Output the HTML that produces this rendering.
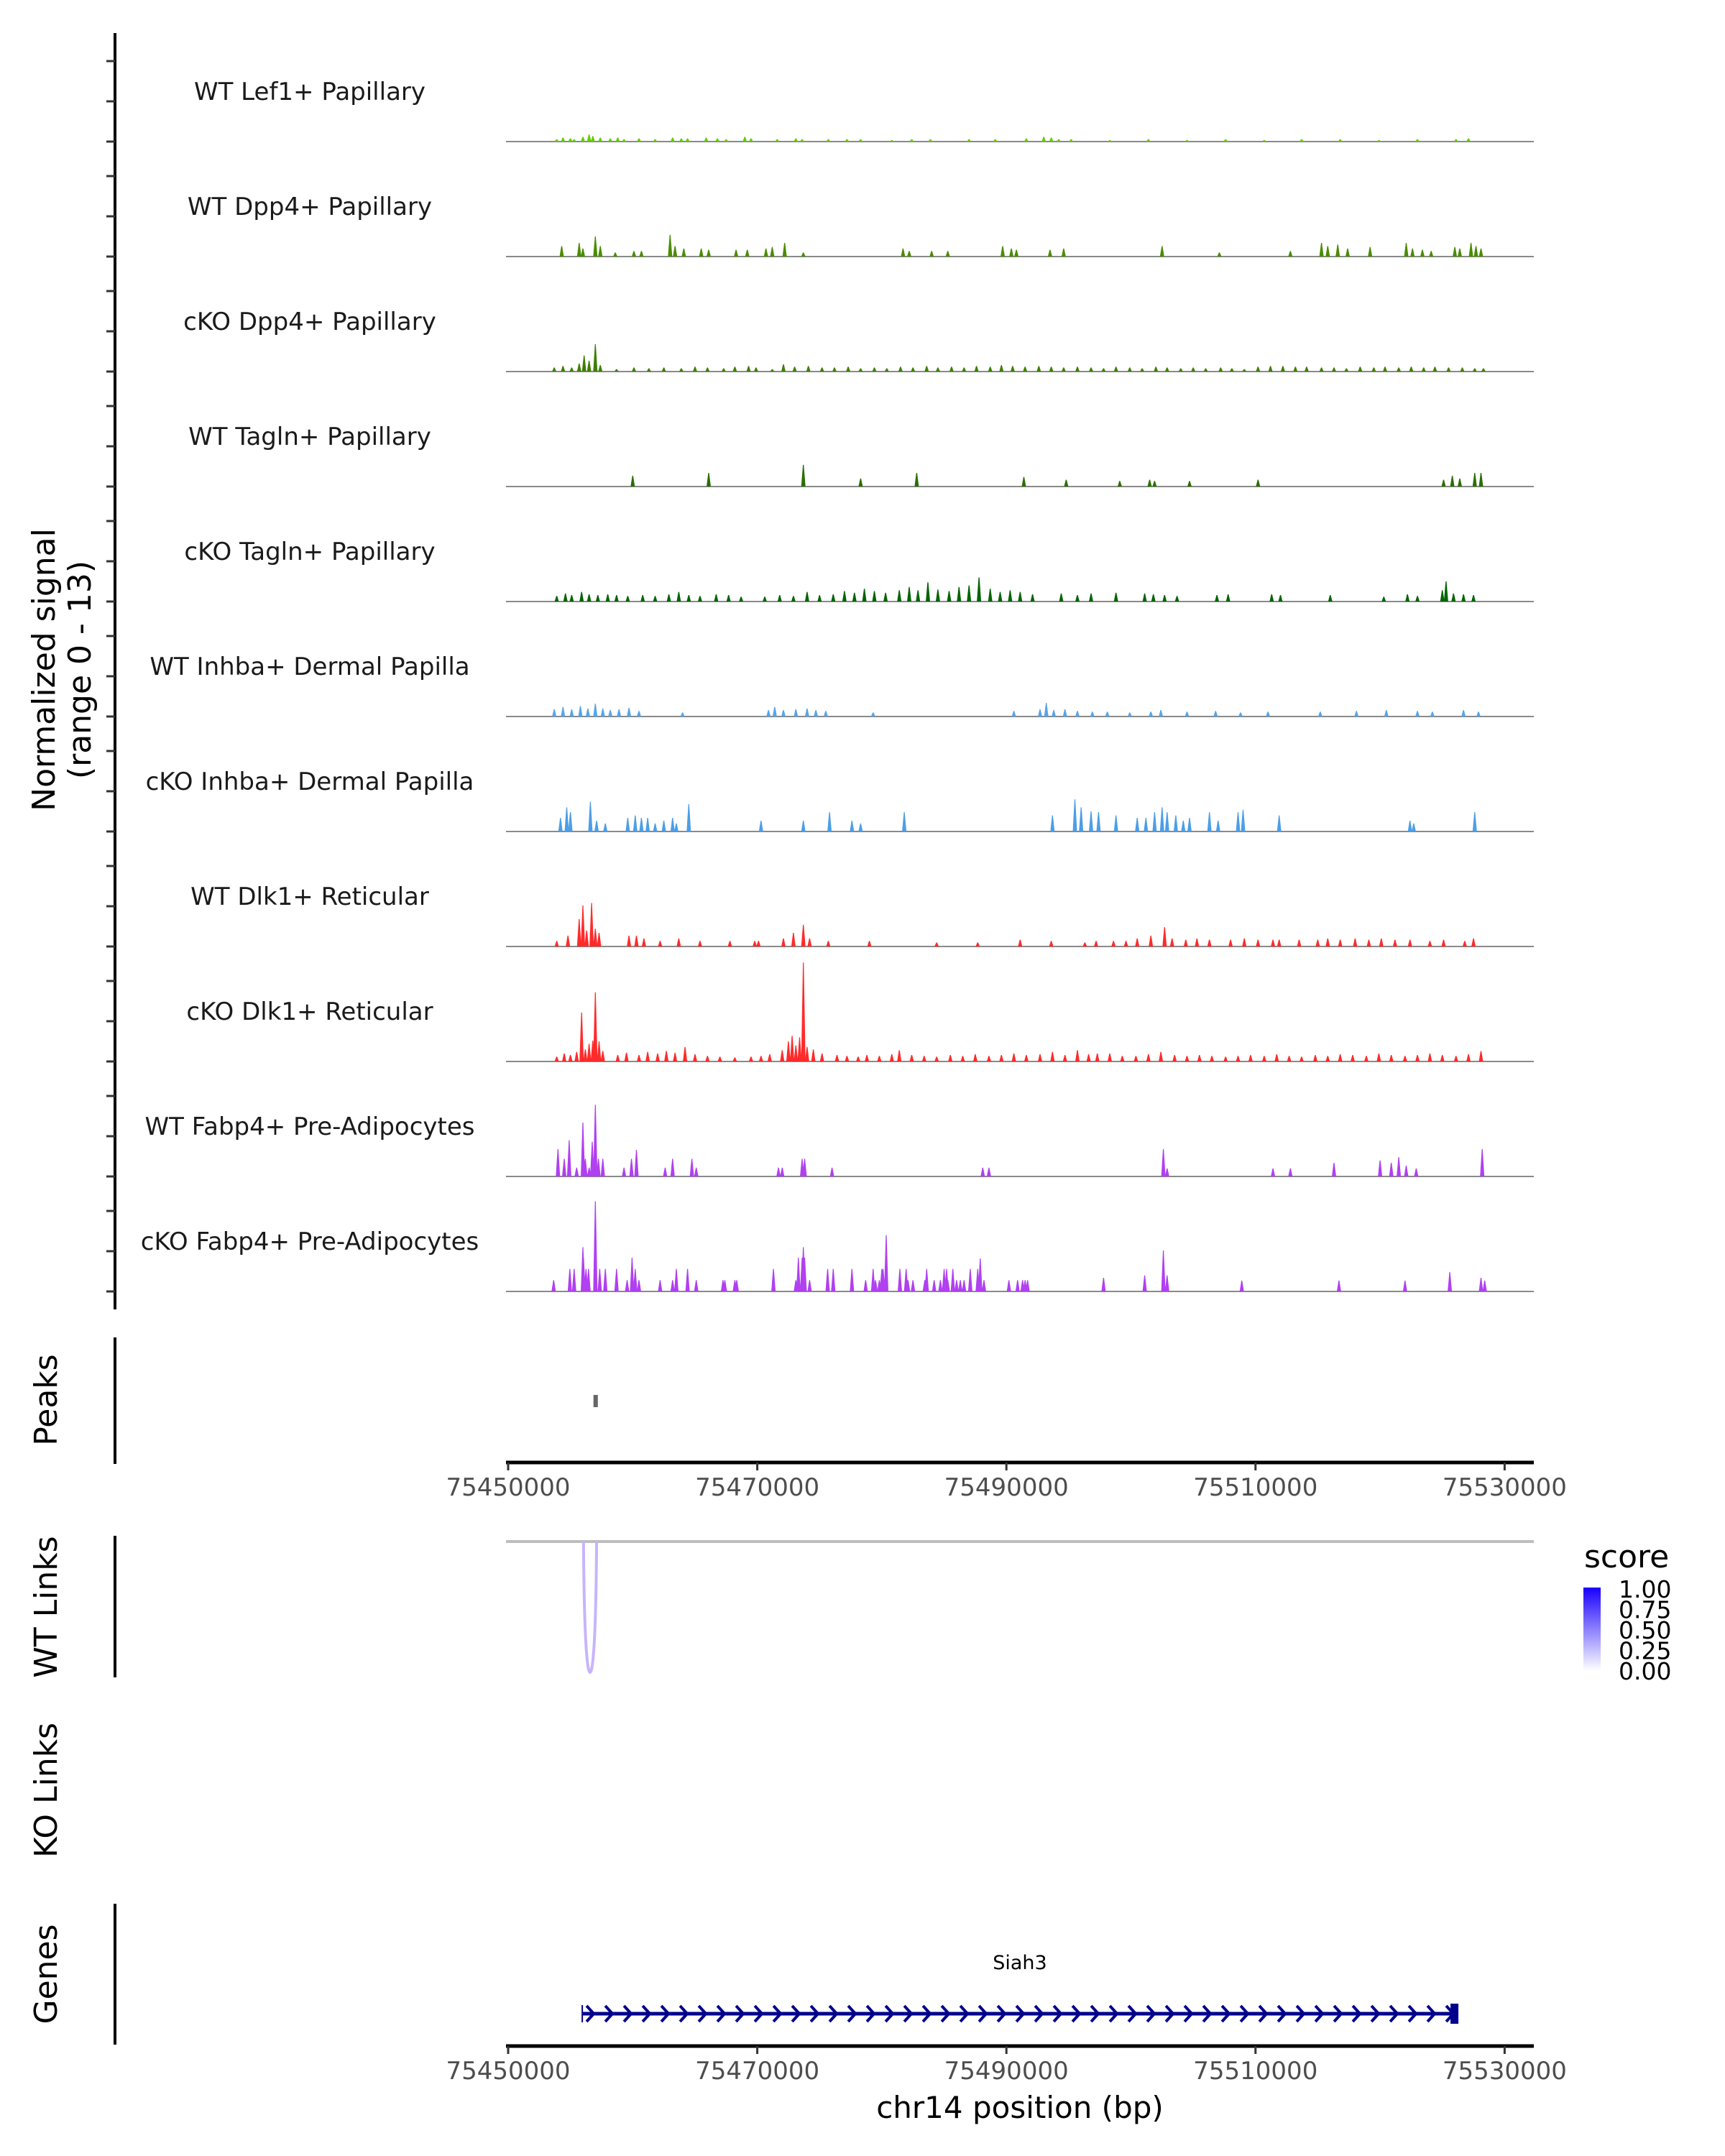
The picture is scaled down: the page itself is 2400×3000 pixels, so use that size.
<!DOCTYPE html>
<html><head><meta charset="utf-8">
<style>
html,body{margin:0;padding:0;background:#fff;}
svg{display:block;}
text{font-family:"DejaVu Sans","Liberation Sans",sans-serif;}
</style></head>
<body>
<svg id="chart" width="2400" height="3000" viewBox="0 0 2400 3000" xmlns="http://www.w3.org/2000/svg">
<g id="tracks"></g>
<g id="axes"></g>
</svg>
<script>
// ---- data (positions in kb offset from 75450000, heights in normalized signal units) ----
const trackNames = ["WT Lef1+ Papillary","WT Dpp4+ Papillary","cKO Dpp4+ Papillary","WT Tagln+ Papillary","cKO Tagln+ Papillary","WT Inhba+ Dermal Papilla","cKO Inhba+ Dermal Papilla","WT Dlk1+ Reticular","cKO Dlk1+ Reticular","WT Fabp4+ Pre-Adipocytes","cKO Fabp4+ Pre-Adipocytes"];
const trackColors = ["#66cc00","#4a8c00","#3f7f00","#2a6e00","#006400","#55a5ea","#4c9ee6","#ff2b2b","#ff2b2b","#b040f0","#b040f0"];
const t1 = [[3.9,.3],[4.4,.5],[5,.4],[5.3,.3],[6,.6],[6.5,.9],[6.8,.7],[7.4,.5],[8.2,.4],[8.8,.5],[9.3,.3],[10.5,.4],[11.8,.3],[13.2,.5],[13.9,.4],[14.4,.4],[15.9,.5],[16.8,.4],[17.5,.3],[19,.6],[19.5,.4],[21.6,.3],[23.1,.4],[23.6,.3],[25.7,.3],[27.2,.3],[28.3,.3],[30.8,.2],[32.4,.3],[33.9,.3],[37,.3],[39.1,.3],[41.6,.4],[43,.6],[43.6,.5],[44.2,.3],[45.2,.3],[48.3,.2],[51.4,.3],[54.5,.2],[57.6,.3],[60.7,.2],[63.7,.3],[66.8,.3],[69.9,.2],[73,.3],[76.1,.3],[77.1,.4]];
const t2 = [[4.3,1.3],[5.7,1.7],[6,1],[7,2.5],[7.4,1.3],[8.6,.5],[10.1,.7],[10.7,.7],[13,2.7],[13.4,1.3],[14.1,1],[15.5,1],[16.1,.85],[18.3,.85],[19.2,.85],[20.7,1],[21.2,1.2],[22.2,1.7],[23.7,.5],[31.7,1],[32.2,.7],[34,.7],[35.3,.7],[39.7,1.3],[40.4,1],[40.8,.85],[43.5,.85],[44.6,1],[52.5,1.3],[57.1,.5],[62.8,.7],[65.3,1.7],[65.8,1.3],[66.6,1.5],[67.4,1],[69.2,1.2],[72.1,1.7],[72.6,1],[73.4,.85],[74.1,.7],[76,1.2],[76.4,1],[77.3,1.7],[77.7,1.3],[78.1,1]];
const t3 = [[3.7,.5],[4.4,.7],[5.1,.5],[5.7,1],[6.1,2],[6.5,1.35],[7,3.4],[7.4,.8],[8.7,.3],[10.1,.5],[11.3,.4],[12.5,.5],[13.9,.4],[15,.6],[16,.5],[17.3,.4],[18.2,.6],[19.3,.7],[19.9,.5],[21.2,.3],[22.1,.9],[23,.6],[24.1,.7],[25.2,.5],[26.2,.5],[27.3,.6],[28.3,.4],[29.4,.5],[30.4,.4],[31.5,.6],[32.5,.5],[33.6,.7],[34.5,.5],[35.6,.6],[36.6,.5],[37.6,.7],[38.7,.6],[39.6,.8],[40.5,.7],[41.5,.6],[42.6,.7],[43.6,.6],[44.6,.5],[45.7,.6],[46.8,.5],[47.8,.4],[48.8,.6],[49.9,.5],[50.9,.4],[52,.6],[52.9,.5],[54,.4],[55,.5],[56,.4],[57.2,.5],[58.1,.4],[59.1,.3],[60.2,.6],[61.2,.7],[62.2,.7],[63.2,.6],[64.1,.6],[65.3,.5],[66.3,.5],[67.3,.4],[68.4,.6],[69.5,.5],[70.4,.6],[71.5,.5],[72.5,.6],[73.5,.5],[74.4,.6],[75.5,.5],[76.6,.5],[77.6,.4],[78.3,.4]];
const t4 = [[10,1.35],[16.1,1.7],[23.7,2.7],[28.3,1],[32.8,1.7],[41.4,1.2],[44.8,.85],[49.1,.7],[51.5,.85],[51.9,.7],[54.7,.7],[60.2,.85],[75.1,.85],[75.8,1.35],[76.4,1],[77.6,1.7],[78.1,1.7]];
const t5 = [[3.9,.7],[4.6,1],[5.1,.8],[5.9,1.2],[6.5,.9],[7.2,.8],[8,.9],[8.7,.8],[9.6,.7],[10.8,.8],[11.8,.7],[12.9,.9],[13.7,1.2],[14.5,.8],[15.4,.7],[16.7,.9],[17.7,.8],[18.7,.6],[20.6,.6],[21.8,.8],[22.9,.7],[24,1.2],[25,.8],[26.1,.9],[27,1.3],[27.8,1.1],[28.6,1.6],[29.4,1.3],[30.3,1.1],[31.4,1.4],[32.2,1.8],[32.9,1.4],[33.7,2.4],[34.5,1.5],[35.4,1.3],[36.2,1.8],[37,2],[37.8,3],[38.7,1.6],[39.5,1.2],[40.3,1.4],[41.1,1.2],[42.1,.9],[44.4,1],[45.7,.8],[46.8,1],[48.8,1.1],[51.1,1],[51.8,.9],[52.7,.8],[53.7,.7],[56.9,.8],[57.8,.9],[61.3,.9],[62,.8],[66,.8],[70.3,.6],[72.2,.9],[73,.7],[75,1.4],[75.3,2.5],[75.9,1],[76.7,.9],[77.5,.8]];
const t6 = [[3.7,.9],[4.4,1.2],[5.1,.9],[5.8,1.3],[6.4,1],[7,1.6],[7.6,1],[8.2,.8],[8.9,.9],[9.7,1.1],[10.5,.7],[14,.5],[20.9,.8],[21.4,1.2],[22.1,.8],[23.1,.9],[24,1],[24.7,.8],[25.5,.7],[29.3,.5],[40.6,.7],[42.7,.9],[43.2,1.7],[43.8,.8],[44.7,.9],[45.7,.7],[46.9,.6],[48.1,.6],[49.9,.5],[51.6,.6],[52.4,.8],[54.5,.6],[56.8,.7],[58.8,.5],[61,.6],[65.2,.6],[68.1,.7],[70.5,.8],[73,.7],[74.2,.6],[76.7,.8],[77.9,.6]];
const t7 = [[4.2,1.7],[4.7,3],[5,2.4],[6.6,3.7],[7.1,1.35],[7.8,1],[9.6,1.7],[10.2,2],[10.7,1.7],[11.2,1.7],[11.8,1],[12.5,1.35],[13.2,1.7],[13.5,1],[14.5,3.4],[20.3,1.35],[23.7,1.35],[25.8,2.4],[27.6,1.35],[28.3,1],[31.8,2.4],[43.7,2],[45.5,4],[46,3],[46.8,2.5],[47.4,2.4],[48.8,2],[50.5,1.7],[51.2,1.7],[51.9,2.4],[52.5,3],[52.9,2.4],[53.6,2],[54.2,1.35],[54.7,1.7],[56.3,2.4],[57,1.35],[58.6,2.4],[59,2.7],[61.9,2],[72.4,1.35],[72.7,1],[77.6,2.4]];
const t8 = [[3.9,.7],[4.8,1.35],[5.7,3.4],[6,5.1],[6.3,2],[6.7,5.4],[7,2.2],[7.3,1.7],[9.7,1.35],[10.3,1.35],[10.9,1],[12.2,.7],[13.7,1],[15.4,.7],[17.8,.7],[19.8,.7],[20.1,.7],[22.1,1],[22.9,1.7],[23.7,2.7],[24.2,1],[25.7,.7],[29,.7],[34.4,.5],[37.7,.5],[41.1,.85],[43.6,.7],[46.3,.5],[47.2,.7],[48.6,.7],[49.6,.7],[50.5,1],[51.6,1.35],[52.7,2.4],[53.3,1],[54.4,.85],[55.3,1],[56.3,.85],[58,.85],[59.1,1],[60.2,.85],[61.4,.85],[61.9,.85],[63.5,.85],[65,.85],[65.8,1],[66.8,.85],[68,1],[69.1,.85],[70.1,1],[71.2,.85],[72.4,.85],[74,.7],[75.1,.85],[76.8,.7],[77.5,1]];
const t9 = [[3.9,.6],[4.5,1],[5,.8],[5.5,1.2],[5.9,6.1],[6.2,1.5],[6.5,2.2],[6.8,2.6],[7,8.6],[7.3,2.5],[7.6,1.3],[8.8,.8],[9.5,1.1],[10.5,.8],[11.2,1.2],[12,1],[12.7,1.3],[13.4,1.1],[14.2,1.8],[15,.9],[16,.7],[17,.6],[18.2,.5],[19.5,.6],[20.3,.7],[21,.9],[22,1.4],[22.5,2.5],[22.8,3.2],[23.1,2],[23.4,3],[23.7,12.3],[24,1.8],[24.5,1.5],[25.2,1],[26.4,.8],[27.2,.7],[28.1,.6],[28.8,.8],[29.8,.7],[30.8,.9],[31.4,1.4],[32.4,.8],[33.4,.7],[34.4,.6],[35.5,.8],[36.5,.7],[37.5,.9],[38.6,.7],[39.6,.8],[40.6,1],[41.6,.8],[42.7,.9],[43.7,1.2],[44.7,.8],[45.7,1.4],[46.6,.9],[47.3,1],[48.3,1],[49.3,.7],[50.4,.7],[51.4,.9],[52.4,1.2],[53.5,.8],[54.5,.7],[55.5,.8],[56.5,.7],[57.6,.6],[58.6,.7],[59.6,.8],[60.7,.7],[61.7,.9],[62.7,.7],[63.7,.6],[64.8,.8],[65.8,.7],[66.8,.9],[67.8,.8],[68.9,.7],[69.9,1],[70.9,.8],[72,.7],[73,.8],[74,1],[75,.8],[76.1,.7],[77.1,.9],[78.1,1.3]];
const t10 = [[4.0,3.4],[4.5,2.2],[4.9,4.5],[5.5,1.1],[6.0,6.7],[6.2,2.2],[6.5,1.1],[6.75,4.3],[7.0,8.9],[7.25,2.2],[7.6,2.2],[9.3,1.1],[9.9,2.2],[10.3,3.3],[12.6,1.1],[13.2,2.2],[14.75,2.2],[15.1,1.1],[21.7,1.1],[22,1.1],[23.6,2.2],[23.8,2.2],[26,1.1],[38.1,1.1],[38.6,1.1],[52.6,3.4],[52.9,1],[61.4,1],[62.8,1],[66.3,1.7],[70,2],[70.9,1.7],[71.5,2.4],[72.1,1.35],[72.9,1],[78.2,3.4]];
const t11 = [[3.65,1.4],[4.95,2.8],[5.3,2.8],[6.0,5.5],[6.05,4.2],[6.25,2.8],[6.45,2.8],[7.0,11.2],[7.35,2.8],[7.8,2.8],[8.7,2.8],[9.55,1.4],[9.95,4.2],[10.2,2.8],[10.5,1.4],[12.2,1.4],[13.2,1.4],[13.5,2.8],[14.4,2.8],[15.1,1.4],[17.25,1.4],[17.4,1.4],[18.2,1.4],[18.35,1.4],[21.3,2.8],[23.1,1.4],[23.3,4.2],[23.6,4.2],[23.7,5.5],[23.8,4.2],[24.2,1.4],[25.65,2.8],[26.1,2.8],[27.6,2.8],[28.7,1.4],[29.3,2.8],[29.5,1.4],[29.8,1.4],[30.0,2.8],[30.1,2.8],[30.35,7.0],[31.45,2.8],[31.95,2.8],[32.1,1.4],[32.5,1.4],[33.45,1.4],[33.6,2.8],[34.2,1.4],[34.7,1.4],[35,2.8],[35.2,2.8],[35.3,1.4],[35.7,2.8],[36,1.4],[36.3,1.4],[36.6,1.4],[37.1,2.8],[37.7,2.8],[37.9,4.1],[38.2,1.4],[40.2,1.4],[40.9,1.4],[41.3,1.4],[41.5,1.4],[41.7,1.4],[47.8,1.7],[51.1,2],[52.6,5.1],[52.9,2],[58.9,1.35],[66.7,1.35],[72,1.35],[75.6,2.4],[78.1,1.7],[78.4,1.35]];
const trackData = [t1,t2,t3,t4,t5,t6,t7,t8,t9,t10,t11];
const xTickValues = [75450000,75470000,75490000,75510000,75530000];
const peakRegions = [[6.85,7.2]];
const wtLinks = [[6.05,7.1,0.3]];
const geneStart = 5.95, geneEnd = 76.0;
const legendTicks = ["1.00","0.75","0.50","0.25","0.00"];

// ---- scales ----
const X0 = 707, PXKB = 17.33;
function xs(kb){ return X0 + kb*PXKB; }
function xsBp(bp){ return xs((bp-75450000)/1000); }
const BASE0 = 197, TRACK_STEP = 160, UNIT = 11.2;
function ys(i, v){ return BASE0 + i*TRACK_STEP - v*UNIT; }

const NS = "http://www.w3.org/2000/svg";
function mk(tag, attrs, parent){
  const e = document.createElementNS(NS, tag);
  for (const k in attrs) e.setAttribute(k, attrs[k]);
  parent.appendChild(e); return e;
}
const tracks = document.getElementById('tracks');
const axes = document.getElementById('axes');

trackData.forEach((arr, i) => {
  const g = mk('g', {}, tracks);
  
  
  const base = ys(i, 0);
  const lbl = mk('text', {x:431, y:base-58, 'font-size':34, fill:'#1a1a1a', 'text-anchor':'middle'}, g);
  lbl.textContent = trackNames[i];
  
  
  const ln = mk('line', {x1:704, x2:2134, y1:base, y2:base, stroke:'#8a8a8a', 'stroke-width':2}, g);
  
  
  let d = '';
  arr.forEach(p => {
    const cx = xs(p[0]), top = ys(i, p[1]);
    d += `M${(cx-3).toFixed(1)},${base} L${(cx-0.6).toFixed(1)},${top.toFixed(1)} L${(cx+0.6).toFixed(1)},${top.toFixed(1)} L${(cx+3).toFixed(1)},${base} Z `;
  });
  const path = mk('path', {d:d, fill:trackColors[i]}, g);
  
  
});

const la = mk('line', {x1:160, x2:160, y1:46, y2:1822, stroke:'#000', 'stroke-width':4}, axes);


for (let i=0;i<trackData.length;i++){
  [0,5,10].forEach(v => {
    const y = BASE0 + i*TRACK_STEP - v*UNIT;
    const t = mk('line', {x1:148, x2:160, y1:y, y2:y, stroke:'#333', 'stroke-width':3}, axes);
    
    
  });
}
const yt = mk('text', {transform:'translate(80,932) rotate(-90)', 'font-size':44, fill:'#000', 'text-anchor':'middle'}, axes);


yt.innerHTML = '<tspan x="0" dy="-4">Normalized signal</tspan><tspan x="0" dy="50">(range 0 - 13)</tspan>';

function sideLabel(txt, cy, y1, y2, name){
  const t = mk('text', {transform:`translate(79,${cy}) rotate(-90)`, 'font-size':44, fill:'#000', 'text-anchor':'middle'}, axes);
  t.textContent = txt;
  
  
  if (y1 !== null){
    const l = mk('line', {x1:160, x2:160, y1:y1, y2:y2, stroke:'#000', 'stroke-width':4}, axes);
    
    
  }
}
sideLabel('Peaks', 1948, 1861, 2037, 'peaks');
sideLabel('WT Links', 2236, 2137, 2334, 'wt-links');
sideLabel('KO Links', 2491, null, null, 'ko-links');
sideLabel('Genes', 2747, 2649, 2845, 'genes');

peakRegions.forEach(p => {
  const r = mk('rect', {x:xs(p[0]), y:1941, width:Math.max(6, xs(p[1])-xs(p[0])), height:17, fill:'#666'}, axes);
  
  
});

function xAxis(y, name){
  const g = mk('g', {}, axes);
  
  
  mk('line', {x1:704, x2:2134, y1:y, y2:y, stroke:'#000', 'stroke-width':5}, g);
  xTickValues.forEach(v => {
    const x = xsBp(v);
    const t = mk('line', {x1:x, x2:x, y1:y, y2:y+11, stroke:'#333', 'stroke-width':3}, g);
    
    
    const l = mk('text', {x:x, y:y+46, 'font-size':34, fill:'#4d4d4d', 'text-anchor':'middle'}, g);
    l.textContent = v;
    
    
  });
}
xAxis(2035, 'peaks-x-axis');
xAxis(2847, 'genes-x-axis');
const xt = mk('text', {x:1419, y:2947, 'font-size':42, fill:'#000', 'text-anchor':'middle'}, axes);
xt.textContent = 'chr14 position (bp)';



const lb = mk('line', {x1:704, x2:2134, y1:2145, y2:2145, stroke:'#bebebe', 'stroke-width':4}, axes);


wtLinks.forEach(l => {
  const a = xs(l[0]), b = xs(l[1]), m = (a+b)/2;
  const p = mk('path', {d:`M${a},2145 C${a+1},2300 ${m-3},2327 ${m},2327 C${m+3},2327 ${b-1},2300 ${b},2145`, fill:'none', stroke:'#c8b4fb', 'stroke-width':4}, axes);
  
  
});

const lg = mk('g', {}, axes);


const defs = mk('defs', {}, lg);
const grad = mk('linearGradient', {id:'sg', x1:0, y1:1, x2:0, y2:0}, defs);
mk('stop', {offset:0, 'stop-color':'#ffffff'}, grad);
mk('stop', {offset:1, 'stop-color':'#1a00ff'}, grad);
const st = mk('text', {x:2204, y:2181, 'font-size':44, fill:'#000'}, lg);
st.textContent = 'score';


const cb = mk('rect', {x:2203, y:2209, width:24, height:116, fill:'url(#sg)'}, lg);


legendTicks.forEach((t, k) => {
  const y = 2223 + k*28.5;
  const tx = mk('text', {x:2252, y:y, 'font-size':33, fill:'#000'}, lg);
  tx.textContent = t;
  
  
});

const gg = mk('g', {}, axes);


const gx1 = xs(geneStart), gx2 = xs(geneEnd);
mk('line', {x1:gx1, x2:gx2, y1:2802, y2:2802, stroke:'#00008b', 'stroke-width':5}, gg);
let ad = '';
for (let x = gx1 + 6; x < gx2 - 8; x += 26) ad += `M${x.toFixed(1)},2791 L${(x+10).toFixed(1)},2802 L${x.toFixed(1)},2813 `;
mk('path', {d:ad, fill:'none', stroke:'#00008b', 'stroke-width':4}, gg);
mk('rect', {x:gx2-6, y:2788, width:11, height:28, fill:'#00008b'}, gg);
mk('line', {x1:gx1, x2:gx1, y1:2790, y2:2814, stroke:'#00008b', 'stroke-width':2}, gg);
const gl = mk('text', {x:1419, y:2740, 'font-size':27, fill:'#000', 'text-anchor':'middle'}, gg);
gl.textContent = 'Siah3';


</script>
</body></html>
